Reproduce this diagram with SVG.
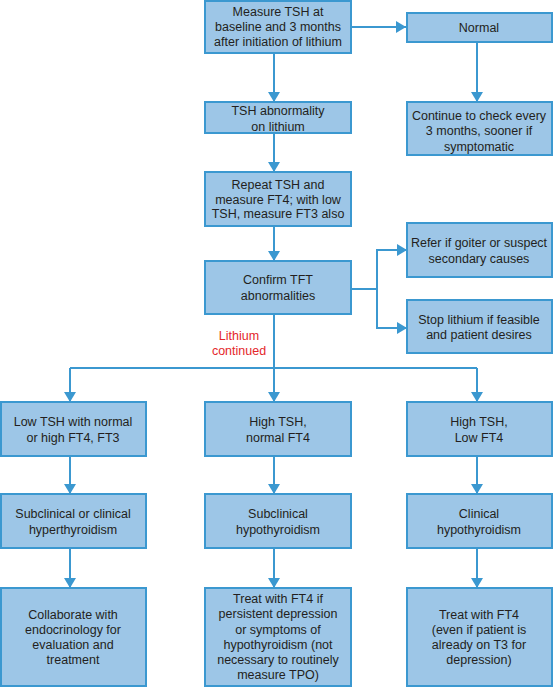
<svg xmlns="http://www.w3.org/2000/svg" width="553" height="687" viewBox="0 0 553 687">
<defs>
<style>
.box{fill:#9dc6e7;stroke:#3b98d0;stroke-width:2}
.t{font-family:"Liberation Sans",Arial,sans-serif;font-size:12.5px;fill:#231f20;text-anchor:middle}
.red{fill:#e4262b}
.c{fill:none;stroke:#3b98d0;stroke-width:2}
</style>
<marker id="ah" viewBox="0 0 10 12" refX="10" refY="6" markerWidth="10" markerHeight="12" markerUnits="userSpaceOnUse" orient="auto">
<path d="M0,0 L10,6 L0,12 Z" fill="#3b98d0"/>
</marker>
</defs>
<g id="connectors">
<path class="c" d="M351,27 H406" marker-end="url(#ah)"/>
<path class="c" d="M274,53 V102" marker-end="url(#ah)"/>
<path class="c" d="M477,42 V102" marker-end="url(#ah)"/>
<path class="c" d="M274,133 V172" marker-end="url(#ah)"/>
<path class="c" d="M274,226 V261" marker-end="url(#ah)"/>
<path class="c" d="M351,289 H377"/>
<path class="c" d="M377,289 V250 H407" marker-end="url(#ah)"/>
<path class="c" d="M377,289 V328 H407" marker-end="url(#ah)"/>
<path class="c" d="M274,314 V402" marker-end="url(#ah)"/>
<path class="c" d="M70,368 H477"/>
<path class="c" d="M70,368 V402" marker-end="url(#ah)"/>
<path class="c" d="M477,368 V402" marker-end="url(#ah)"/>
<path class="c" d="M70,456 V494" marker-end="url(#ah)"/>
<path class="c" d="M274,456 V494" marker-end="url(#ah)"/>
<path class="c" d="M477,456 V494" marker-end="url(#ah)"/>
<path class="c" d="M70,548 V588" marker-end="url(#ah)"/>
<path class="c" d="M274,548 V588" marker-end="url(#ah)"/>
<path class="c" d="M477,548 V588" marker-end="url(#ah)"/>
<text class="t red" x="239" y="339.5">Lithium</text>
<text class="t red" x="239" y="354.5">continued</text>
</g>
<g id="measure">
<rect class="box" x="205" y="1" width="146" height="52"/>
<text class="t" x="278" y="16">Measure TSH at</text>
<text class="t" x="278" y="31">baseline and 3 months</text>
<text class="t" x="278" y="46">after initiation of lithium</text>
</g>
<g id="normal">
<rect class="box" x="407" y="13" width="145" height="29"/>
<text class="t" x="479" y="31.5">Normal</text>
</g>
<g id="abnormality">
<rect class="box" x="205" y="102" width="146" height="31"/>
<text class="t" x="278" y="114.5">TSH abnormality</text>
<text class="t" x="278" y="130.5">on lithium</text>
</g>
<g id="continue">
<rect class="box" x="407" y="102" width="145" height="53"/>
<text class="t" x="479" y="120">Continue to check every</text>
<text class="t" x="479" y="135">3 months, sooner if</text>
<text class="t" x="479" y="150.5">symptomatic</text>
</g>
<g id="repeat">
<rect class="box" x="205" y="172" width="146" height="54"/>
<text class="t" x="278" y="188.5">Repeat TSH and</text>
<text class="t" x="278" y="203.5">measure FT4; with low</text>
<text class="t" x="278" y="218">TSH, measure FT3 also</text>
</g>
<g id="confirm">
<rect class="box" x="205" y="261" width="146" height="53"/>
<text class="t" x="278" y="283.5">Confirm TFT</text>
<text class="t" x="278" y="299.5">abnormalities</text>
</g>
<g id="refer">
<rect class="box" x="407" y="223" width="145" height="54"/>
<text class="t" x="479" y="246.5">Refer if goiter or suspect</text>
<text class="t" x="479" y="262.5">secondary causes</text>
</g>
<g id="stop">
<rect class="box" x="407" y="300" width="145" height="53"/>
<text class="t" x="479" y="323.5">Stop lithium if feasible</text>
<text class="t" x="479" y="338.5">and patient desires</text>
</g>
<g id="low-tsh">
<rect class="box" x="1" y="402" width="145" height="54"/>
<text class="t" x="73" y="425.5">Low TSH with normal</text>
<text class="t" x="73" y="441.5">or high FT4, FT3</text>
</g>
<g id="high-normal">
<rect class="box" x="205" y="402" width="146" height="54"/>
<text class="t" x="278" y="425.5">High TSH,</text>
<text class="t" x="278" y="441.5">normal FT4</text>
</g>
<g id="high-low">
<rect class="box" x="407" y="402" width="145" height="54"/>
<text class="t" x="479" y="425.5">High TSH,</text>
<text class="t" x="479" y="441.5">Low FT4</text>
</g>
<g id="hyper">
<rect class="box" x="1" y="494" width="145" height="54"/>
<text class="t" x="73" y="517.5">Subclinical or clinical</text>
<text class="t" x="73" y="533.5">hyperthyroidism</text>
</g>
<g id="subhypo">
<rect class="box" x="205" y="494" width="146" height="54"/>
<text class="t" x="278" y="517.5">Subclinical</text>
<text class="t" x="278" y="533.5">hypothyroidism</text>
</g>
<g id="clinhypo">
<rect class="box" x="407" y="494" width="145" height="54"/>
<text class="t" x="479" y="517.5">Clinical</text>
<text class="t" x="479" y="533.5">hypothyroidism</text>
</g>
<g id="collaborate">
<rect class="box" x="1" y="588" width="145" height="98"/>
<text class="t" x="73" y="618.5">Collaborate with</text>
<text class="t" x="73" y="633.5">endocrinology for</text>
<text class="t" x="73" y="648.5">evaluation and</text>
<text class="t" x="73" y="663.5">treatment</text>
</g>
<g id="treat-sub">
<rect class="box" x="205" y="588" width="146" height="98"/>
<text class="t" x="278" y="602.5">Treat with FT4 if</text>
<text class="t" x="278" y="618">persistent depression</text>
<text class="t" x="278" y="633.5">or symptoms of</text>
<text class="t" x="278" y="648.5">hypothyroidism (not</text>
<text class="t" x="278" y="663.5">necessary to routinely</text>
<text class="t" x="278" y="679">measure TPO)</text>
</g>
<g id="treat-clin">
<rect class="box" x="407" y="588" width="145" height="98"/>
<text class="t" x="479" y="618.5">Treat with FT4</text>
<text class="t" x="479" y="633.5">(even if patient is</text>
<text class="t" x="479" y="648.5">already on T3 for</text>
<text class="t" x="479" y="663.5">depression)</text>
</g>
</svg>
